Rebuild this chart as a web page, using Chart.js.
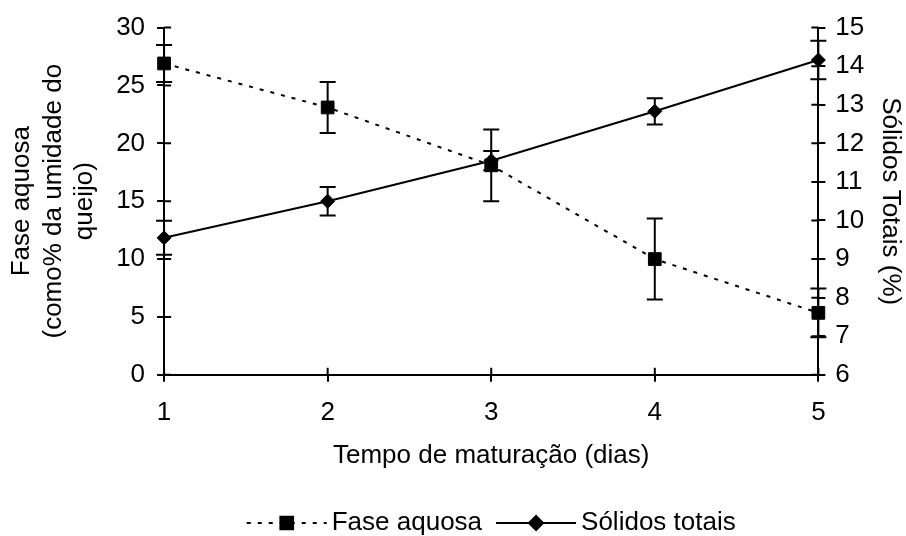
<!DOCTYPE html>
<html>
<head>
<meta charset="utf-8">
<script src="https://cdn.jsdelivr.net/npm/chart.js@4"></script>
<style>
  html, body { margin: 0; padding: 0; background: #fff; }
  #wrap { width: 906px; height: 536px; }
</style>
</head>
<body>
<div id="wrap"><canvas id="chart"></canvas></div>
<script>
const dias = ['1', '2', '3', '4', '5'];
const faseAquosa = [26.9, 23.1, 18.1, 10.0, 5.35];
const faseAquosaErro = [1.6, 2.2, 3.1, 3.5, 2.1];
const solidosTotais = [9.55, 10.5, 11.55, 12.83, 14.16];
const solidosTotaisErro = [0.44, 0.37, 0.25, 0.34, 0.5];

const FONTE = '"Liberation Sans", Arial, Helvetica, sans-serif';

// barras de erro com traço nas pontas
const errorBars = {
    id: 'errorBars',
    beforeDatasetsDraw(chart) {
        const ctx = chart.ctx;
        ctx.save();
        ctx.strokeStyle = '#000';
        ctx.lineWidth = 2;
        chart.data.datasets.forEach((ds, i) => {
            const meta = chart.getDatasetMeta(i);
            const scale = chart.scales[ds.yAxisID];
            meta.data.forEach((pt, j) => {
                const v = ds.data[j];
                const e = ds.errors[j];
                const top = scale.getPixelForValue(v + e);
                const bot = scale.getPixelForValue(v - e);
                ctx.beginPath();
                ctx.moveTo(pt.x, top);
                ctx.lineTo(pt.x, bot);
                ctx.moveTo(pt.x - 8, top);
                ctx.lineTo(pt.x + 8, top);
                ctx.moveTo(pt.x - 8, bot);
                ctx.lineTo(pt.x + 8, bot);
                ctx.stroke();
            });
        });
        ctx.restore();
    }
};

// marcas dos eixos atravessando a linha (parte interna)
const innerTicks = {
    id: 'innerTicks',
    afterDraw(chart) {
        const ctx = chart.ctx;
        const area = chart.chartArea;
        ctx.save();
        ctx.strokeStyle = '#000';
        ctx.lineWidth = 2;
        ctx.beginPath();
        const x = chart.scales.x;
        x.ticks.forEach((t, i) => {
            const px = x.getPixelForTick(i);
            ctx.moveTo(px, area.bottom);
            ctx.lineTo(px, area.bottom - 7);
        });
        const y = chart.scales.y;
        y.ticks.forEach((t, i) => {
            const py = y.getPixelForTick(i);
            ctx.moveTo(area.left, py);
            ctx.lineTo(area.left + 7, py);
        });
        const y1 = chart.scales.y1;
        y1.ticks.forEach((t, i) => {
            const py = y1.getPixelForTick(i);
            ctx.moveTo(area.right, py);
            ctx.lineTo(area.right - 7, py);
        });
        ctx.stroke();
        ctx.restore();
    }
};

// legenda embaixo, com linha e marcador
const legendaLinhas = {
    id: 'legendaLinhas',
    afterDraw(chart) {
        const ctx = chart.ctx;
        const area = chart.chartArea;
        const cy = 523;
        const amostra = 80;
        const gapTexto = 5;
        const gapItens = 14;
        ctx.save();
        ctx.font = '26px ' + FONTE;
        const itens = chart.data.datasets.map(ds => ({ ds, w: ctx.measureText(ds.label).width }));
        let total = 0;
        itens.forEach((it, i) => { total += amostra + gapTexto + it.w + (i ? gapItens : 0); });
        let x = (area.left + area.right) / 2 - total / 2;
        itens.forEach((it, i) => {
            if (i) x += gapItens;
            ctx.strokeStyle = '#000';
            ctx.lineWidth = 2;
            ctx.setLineDash(it.ds.borderDash || []);
            ctx.beginPath();
            ctx.moveTo(x, cy);
            ctx.lineTo(x + amostra, cy);
            ctx.stroke();
            ctx.setLineDash([]);
            Chart.helpers.drawPoint(ctx, {
                pointStyle: it.ds.pointStyle,
                radius: it.ds.pointRadius,
                borderWidth: 1
            }, x + amostra / 2, cy);
            ctx.fillStyle = '#000';
            ctx.fill();
            ctx.textBaseline = 'middle';
            ctx.textAlign = 'left';
            ctx.fillText(it.ds.label, x + amostra + gapTexto, cy);
            x += amostra + gapTexto + it.w;
        });
        ctx.restore();
    }
};

Chart.defaults.font.family = FONTE;
Chart.defaults.font.size = 26;
Chart.defaults.color = '#000';

new Chart(document.getElementById('chart'), {
    type: 'line',
    data: {
        labels: dias,
        datasets: [{
            label: 'Fase aquosa',
            data: faseAquosa,
            errors: faseAquosaErro,
            yAxisID: 'y',
            borderColor: '#000',
            backgroundColor: '#000',
            borderWidth: 2,
            borderDash: [4, 7],
            pointStyle: 'rect',
            pointRadius: 9,
            pointBorderWidth: 1,
            tension: 0
        }, {
            label: 'Sólidos totais',
            data: solidosTotais,
            errors: solidosTotaisErro,
            yAxisID: 'y1',
            borderColor: '#000',
            backgroundColor: '#000',
            borderWidth: 2,
            pointStyle: 'rectRot',
            pointRadius: 7,
            pointBorderWidth: 1,
            tension: 0
        }]
    },
    options: {
        responsive: true,
        maintainAspectRatio: false,
        animation: false,
        layout: { padding: { top: 27, bottom: 67, left: 0, right: 0 } },
        plugins: {
            legend: { display: false },
            tooltip: { enabled: false }
        },
        scales: {
            x: {
                offset: false,
                grid: { drawOnChartArea: false, color: '#000', lineWidth: 2, tickLength: 7, offset: false },
                border: { color: '#000', width: 2 },
                ticks: { padding: 15, maxRotation: 0 },
                title: {
                    display: true,
                    text: 'Tempo de maturação (dias)',
                    font: { size: 26, lineHeight: 1.0 },
                    padding: { top: 0, bottom: 0 }
                }
            },
            y: {
                position: 'left',
                min: 0,
                max: 30,
                grid: { drawOnChartArea: false, color: '#000', lineWidth: 2, tickLength: 7 },
                border: { color: '#000', width: 2 },
                ticks: { stepSize: 5, padding: 12 },
                title: {
                    display: true,
                    text: ['Fase aquosa', '(como% da umidade do', 'queijo)'],
                    font: { size: 26, lineHeight: 1.22 },
                    padding: { top: 6, bottom: 3 }
                }
            },
            y1: {
                position: 'right',
                min: 6,
                max: 15,
                grid: { drawOnChartArea: false, color: '#000', lineWidth: 2, tickLength: 7 },
                border: { color: '#000', width: 2 },
                ticks: { stepSize: 1, padding: 10 },
                title: {
                    display: true,
                    text: 'Sólidos Totais (%)',
                    font: { size: 26, lineHeight: 1.22 },
                    padding: { top: 0, bottom: 0 }
                }
            }
        }
    },
    plugins: [errorBars, innerTicks, legendaLinhas]
});
</script>
</body>
</html>
